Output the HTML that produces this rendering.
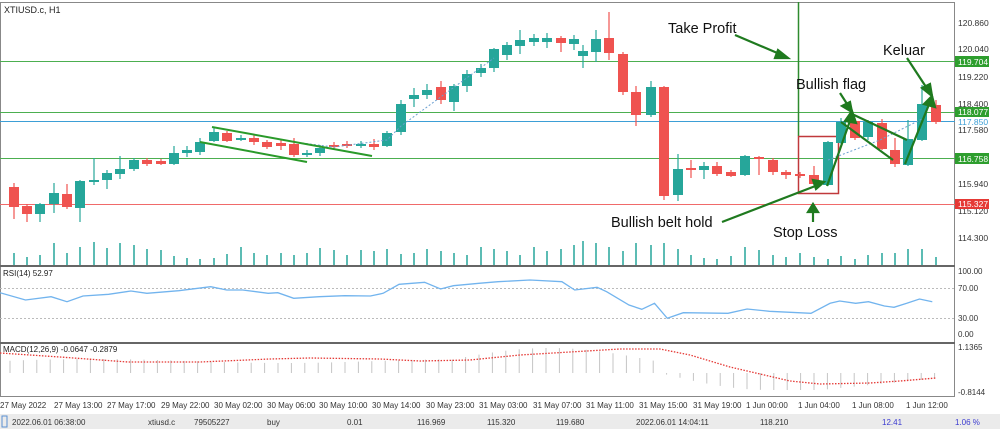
<!DOCTYPE html>
<html><head><meta charset="utf-8"><style>
body{margin:0;background:#fff;width:1000px;height:429px;overflow:hidden;font-family:"Liberation Sans",sans-serif}
svg text{font-family:"Liberation Sans",sans-serif}
</style></head><body>
<svg id="s" width="1000" height="429" viewBox="0 0 1000 429" xmlns="http://www.w3.org/2000/svg">
<rect width="1000" height="429" fill="#fff"/>
<rect x="0.5" y="2.5" width="954" height="394" fill="none" stroke="#888" stroke-width="1"/>
<line x1="0" y1="266" x2="955" y2="266" stroke="#666" stroke-width="2"/>
<line x1="0" y1="343" x2="955" y2="343" stroke="#666" stroke-width="2"/>
<line x1="0" y1="61.5" x2="955" y2="61.5" stroke="#4caf50"/>
<line x1="0" y1="112.5" x2="955" y2="112.5" stroke="#4caf50"/>
<line x1="0" y1="121.5" x2="955" y2="121.5" stroke="#3d9fd6"/>
<line x1="0" y1="158.5" x2="955" y2="158.5" stroke="#4caf50"/>
<line x1="0" y1="204.5" x2="955" y2="204.5" stroke="#f06a6a"/>
<line x1="798.5" y1="2" x2="798.5" y2="136" stroke="#2e8b2e" stroke-width="1.5"/>
<rect x="798.5" y="136.5" width="40" height="57" fill="none" stroke="#c0393b" stroke-width="1.5"/>
<g id="candles"></g>
<g id="vol"></g>
<polyline points="294,142 334,147 387,140 401,126 494,58" fill="none" stroke="#6a9fd0" stroke-dasharray="2,2"/>
<polyline points="828,160 880,140 922,119" fill="none" stroke="#6a9fd0" stroke-dasharray="2,2"/>
<line x1="212" y1="127" x2="372" y2="156" stroke="#2a9a2a" stroke-width="2"/>
<line x1="200" y1="142" x2="307" y2="162" stroke="#2a9a2a" stroke-width="2"/>
<g stroke="#1f7a1f" stroke-width="2.2" fill="#1f7a1f">
<line x1="841" y1="122" x2="893" y2="160"/>
<line x1="852" y1="114" x2="907" y2="140"/>
<line x1="827" y1="186" x2="851" y2="118"/><polygon points="852,111 845,121 856,123"/>
<line x1="905" y1="164" x2="930" y2="102"/><polygon points="932,96 924,104 935,107"/>
<line x1="735" y1="35" x2="782" y2="55"/><polygon points="788,58 778,50 775,58"/>
<line x1="907" y1="58" x2="928" y2="90"/><polygon points="932,96 922,88 930,84"/>
<line x1="840" y1="93" x2="849" y2="107"/><polygon points="852,112 842,106 850,102"/>
<line x1="722" y1="222" x2="818" y2="185"/><polygon points="824,182 813,180 816,189"/>
<line x1="813" y1="222" x2="813" y2="210"/><polygon points="813,204 808,212 818,212"/>
</g>
<g font-size="14.5" fill="#111">
<text x="668" y="33">Take Profit</text>
<text x="883" y="55">Keluar</text>
<text x="796" y="89">Bullish flag</text>
<text x="611" y="227">Bullish belt hold</text>
<text x="773" y="237">Stop Loss</text>
</g>
<text x="4" y="13" font-size="9" fill="#222">XTIUSD.c, H1</text>
<g font-size="8.5" fill="#333">
<text x="958" y="26">120.860</text><text x="958" y="52">120.040</text><text x="958" y="80">119.220</text>
<text x="958" y="107">118.400</text><text x="958" y="133">117.580</text><text x="958" y="187">115.940</text>
<text x="958" y="214">115.120</text><text x="958" y="241">114.300</text>
</g>
<rect x="955" y="56" width="34" height="11" fill="#2e9e2e"/><text x="958" y="65" font-size="8.5" fill="#fff">119.704</text>
<rect x="955" y="107" width="34" height="10" fill="#2e9e2e"/><text x="958" y="115" font-size="8.5" fill="#fff">118.077</text>
<text x="958" y="125" font-size="8.5" fill="#3d9fd6">117.850</text>
<rect x="955" y="153" width="34" height="11" fill="#2e9e2e"/><text x="958" y="162" font-size="8.5" fill="#fff">116.758</text>
<rect x="955" y="199" width="34" height="10" fill="#e53935"/><text x="958" y="207" font-size="8.5" fill="#fff">115.327</text>
<text x="3" y="276" font-size="8" fill="#222">RSI(14) 52.97</text>
<line x1="0" y1="288.5" x2="955" y2="288.5" stroke="#bbb" stroke-dasharray="2,2"/>
<line x1="0" y1="318.5" x2="955" y2="318.5" stroke="#bbb" stroke-dasharray="2,2"/>
<polyline id="rsi" fill="none" stroke="#72b4ee" stroke-width="1.3"/>
<g font-size="8" fill="#333"><text x="958" y="274">100.00</text><text x="958" y="291">70.00</text><text x="958" y="321">30.00</text><text x="958" y="337">0.00</text>
<text x="958" y="350">1.1365</text><text x="958" y="395">-0.8144</text></g>
<text x="3" y="352" font-size="8" fill="#222">MACD(12,26,9) -0.0647 -0.2879</text>
<g id="hist"></g>
<polyline id="sig" fill="none" stroke="#e53935" stroke-width="1.3" stroke-dasharray="1.5,1.5"/>
<g font-size="8" fill="#333">
<text x="0" y="408">27 May 2022</text><text x="54" y="408">27 May 13:00</text><text x="107" y="408">27 May 17:00</text>
<text x="161" y="408">29 May 22:00</text><text x="214" y="408">30 May 02:00</text><text x="267" y="408">30 May 06:00</text>
<text x="319" y="408">30 May 10:00</text><text x="372" y="408">30 May 14:00</text><text x="426" y="408">30 May 23:00</text>
<text x="479" y="408">31 May 03:00</text><text x="533" y="408">31 May 07:00</text><text x="586" y="408">31 May 11:00</text>
<text x="639" y="408">31 May 15:00</text><text x="693" y="408">31 May 19:00</text><text x="746" y="408">1 Jun 00:00</text>
<text x="798" y="408">1 Jun 04:00</text><text x="852" y="408">1 Jun 08:00</text><text x="906" y="408">1 Jun 12:00</text>
</g>
<rect x="0" y="414" width="1000" height="15" fill="#ebebeb"/>
<g font-size="8" fill="#333">
<text x="12" y="425">2022.06.01 06:38:00</text><text x="148" y="425">xtiusd.c</text><text x="194" y="425">79505227</text>
<text x="267" y="425">buy</text><text x="347" y="425">0.01</text><text x="417" y="425">116.969</text>
<text x="487" y="425">115.320</text><text x="556" y="425">119.680</text><text x="636" y="425">2022.06.01 14:04:11</text>
<text x="760" y="425">118.210</text><text x="882" y="425" fill="#3b3bd0">12.41</text><text x="955" y="425" fill="#3b3bd0">1.06 %</text>
</g>
<rect x="2" y="416" width="5" height="11" fill="none" stroke="#5a8fd0"/>
</svg>
<script>
(function(){
var NS="http://www.w3.org/2000/svg";
function el(p,t,a){var e=document.createElementNS(NS,t);for(var k in a)e.setAttribute(k,a[k]);p.appendChild(e);return e;}
var C=[[14,'r',187,207,183,219],[27,'r',206,214,204,222],[40,'t',204,214,203,222],[54,'t',193,204,183,213],[67,'r',194,207,184,209],[80,'t',181,208,180,222],
[94,'t',180,182,158,185],[107,'t',173,180,170,189],[120,'t',169,174,156,179],[134,'t',160,169,158,171],[147,'r',160,164,158,166],[161,'r',161,164,159,165],
[174,'t',153,164,146,165],[187,'t',150,153,146,157],[200,'t',142,152,138,155],[214,'t',132,141,127,142],[227,'r',133,141,131,142],[241,'t',138,140,135,141],
[254,'r',138,142,135,145],[267,'r',142,147,140,149],[281,'r',143,146,140,150],[294,'r',144,155,138,157],[307,'t',153,155,150,157],[320,'t',148,153,145,156],
[334,'r',145,147,142,149],[347,'r',144,146,141,148],[361,'t',144,145,141,148],[374,'r',144,147,139,150],[387,'t',133,146,131,147],[401,'t',104,132,100,135],
[414,'t',95,99,88,107],[427,'t',90,95,84,99],[441,'r',87,100,81,104],[454,'t',86,102,84,111],[467,'t',74,86,70,92],[481,'t',68,73,64,77],[494,'t',49,68,48,72],
[507,'t',45,55,42,60],[520,'t',40,46,30,54],[534,'t',38,42,34,46],[547,'t',38,42,33,48],[561,'r',38,43,36,52],[574,'t',39,44,35,50],
[583,'t',51,56,45,68],[596,'t',39,52,30,62],[609,'r',38,53,12,60],[623,'r',54,92,52,95],[636,'r',92,115,86,126],[651,'t',87,115,81,117],
[664,'r',87,196,86,200],[678,'t',169,195,154,201],[691,'r',168,170,160,178],[704,'t',166,170,162,179],[717,'r',166,174,162,176],[731,'r',172,176,170,177],
[745,'t',156,175,155,176],[759,'r',157,159,156,175],[773,'r',160,172,158,175],[786,'r',172,175,170,179],[800,'r',174,176,172,178],[814,'r',175,184,166,185],
[828,'t',142,185,141,186],[841,'t',122,143,118,144],[855,'r',121,138,118,140],[868,'t',122,137,120,140],[882,'r',123,149,119,150],[895,'r',150,164,138,167],
[908,'t',139,165,120,166],[922,'t',104,140,85,141],[936,'r',105,122,100,124]];
var g=document.getElementById('candles'),v=document.getElementById('vol');
var vh=[12,8,10,22,12,18,23,17,22,20,16,15,9,7,6,7,11,18,12,10,12,10,12,17,15,10,15,14,16,11,12,16,14,12,10,18,16,14,10,18,14,16,20,24,22,18,14,22,20,22,16,10,7,6,9,18,15,10,8,12,8,6,9,6,10,12,12,16,16,8];
C.forEach(function(c,i){var col=c[1]=='t'?'#26a69a':'#ef5350';
el(g,'line',{x1:c[0],x2:c[0],y1:c[4],y2:c[5],stroke:col,'stroke-width':1.2});
el(g,'rect',{x:c[0]-5,y:c[2],width:10,height:Math.max(2,c[3]-c[2]),fill:col});
var h=vh[i%vh.length];el(v,'line',{x1:c[0],x2:c[0],y1:265-h,y2:265,stroke:'#26a69a','stroke-width':1.5});});
var R=[[0,128],[40,150],[80,140],[105,155],[130,138],[170,133],[205,123],[230,130],[280,122],[330,110],[355,120],[380,120],[420,130],[435,128],[460,145],[500,140],[540,137],[580,138],[600,130],[625,103],[665,97],[690,117],[710,107],[750,100],[780,95],[830,90],[880,95],[900,120],[935,112],[950,125],[985,165],[1005,178],[1025,160],[1045,205],[1070,188],[1140,190],[1170,177],[1205,184],[1270,190],[1300,160],[1315,153],[1340,160],[1360,155],[1385,168],[1400,172],[1420,160],[1440,147],[1460,155]];
document.getElementById('rsi').setAttribute('points',R.map(function(p){return (p[0]/1.566).toFixed(1)+','+(250+p[1]/3).toFixed(1)}).join(' '));
var S=[[0,353],[60,357],[128,362],[200,362],[270,359],[310,358],[380,359],[420,361],[470,360],[520,355],[570,352],[620,349],[660,349],[690,355],[730,367],[790,381],[820,384],[870,383],[900,381],[936,378]];
document.getElementById('sig').setAttribute('points',S.map(function(p){return p[0]+','+p[1]}).join(' '));
var hg=document.getElementById('hist');
for(var x=10;x<940;x+=13.4){var tp;
 if(x<440)tp=361-2*Math.sin(x/60);else if(x<660)tp=362-14*Math.sin((x-440)/220*Math.PI);else tp=null;
 if(tp!==null)el(hg,'line',{x1:x.toFixed(1),x2:x.toFixed(1),y1:tp.toFixed(1),y2:373,stroke:'#c4c4c4'});
 else{var b=373+17*Math.sin(Math.min(1,(x-660)/110)*Math.PI/2)-(x>820?(x-820)/10:0);el(hg,'line',{x1:x.toFixed(1),x2:x.toFixed(1),y1:373,y2:b.toFixed(1),stroke:'#c4c4c4'});}}
})();
</script>
</body></html>
